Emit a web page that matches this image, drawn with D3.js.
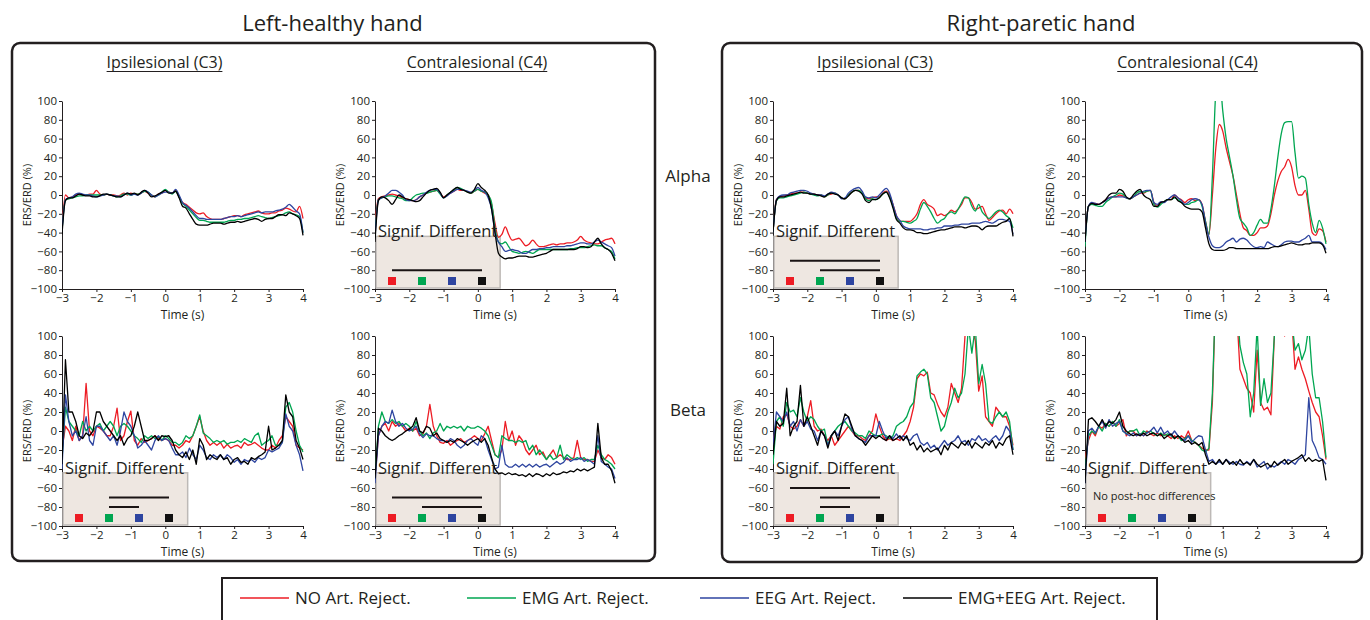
<!DOCTYPE html>
<html>
<head>
<meta charset="utf-8">
<script src="https://cdn.jsdelivr.net/npm/d3@7"></script>
<style>
  body { margin: 0; background: #fff; }
  text { font-family: "Open Sans", "Noto Sans", sans-serif; fill: #231f20; }
</style>
</head>
<body>
<svg id="chart" width="1370" height="620"></svg>
<script>
// time axis, one sample every 0.1 s from -3 to 4
const timeSteps = d3.range(71).map(i => Math.round((-3 + i * 0.1) * 10) / 10);
const xTicks = [-3, -2, -1, 0, 1, 2, 3, 4];
const yTicks = [-100, -80, -60, -40, -20, 0, 20, 40, 60, 80, 100];

const conditions = ["NO Art. Reject.", "EMG Art. Reject.", "EEG Art. Reject.", "EMG+EEG Art. Reject."];
const conditionColors = ["#ed1c24", "#00a651", "#2e45a0", "#000000"];
const handTitles = ["Left-healthy hand", "Right-paretic hand"];
const channelTitles = ["Ipsilesional (C3)", "Contralesional (C4)"];
const bandLabels = ["Alpha", "Beta"];

// ---- Left-healthy hand, alpha, ipsilesional
const lhAlphaIpsiNo = [
  -35, 0, -3, -2, 0, 1, 0, 0, 1, 1,
  5, 1, 0, 1, 0, 0, -1, 0, 2, 0,
  2, 1, 1, 2, 4, 2, 0, -2, 1, 2,
  5, 3, 2, 5, -2, -8, -10, -13, -16, -19,
  -20, -19, -23, -25, -26, -26, -26, -25, -24, -23,
  -22, -22, -23, -21, -20, -19, -18, -17, -19, -20,
  -20, -19, -19, -17, -16, -14, -15, -17, -18, -12,
  -25];
const lhAlphaIpsiEmg = [
  -38, -5, -4, -3, -2, -1, -1, 0, 0, 0,
  0, 0, 0, 1, 0, -1, -2, -1, 1, 1,
  0, 1, 1, 2, 4, 3, 0, -2, 0, 3,
  6, 3, 1, 4, -2, -9, -12, -16, -20, -24,
  -27, -27, -28, -29, -29, -29, -29, -29, -28, -27,
  -27, -26, -26, -25, -25, -24, -23, -22, -23, -24,
  -25, -24, -23, -22, -21, -19, -18, -20, -21, -23,
  -40];
const lhAlphaIpsiEeg = [
  -38, -5, -3, -2, 1, 2, 1, 0, 0, -1,
  -2, -1, 0, 1, 0, -1, -1, -2, 0, 2,
  0, 1, 0, 2, 5, 3, 0, -2, 0, 2,
  3, 3, 2, 6, 0, -8, -11, -14, -18, -22,
  -25, -25, -26, -26, -26, -26, -26, -25, -24, -23,
  -23, -22, -23, -22, -21, -20, -19, -18, -19, -18,
  -18, -18, -17, -16, -15, -13, -10, -13, -17, -20,
  -40];
const lhAlphaIpsiBoth = [
  -42, -6, -3, -3, -1, 1, 0, -1, -1, -2,
  -2, -1, 1, 1, 0, -1, -2, -2, 0, 2,
  1, 2, 0, 3, 5, 2, -2, -1, 1, 3,
  5, 2, 2, 4, -3, -12, -14, -20, -26, -31,
  -32, -32, -32, -31, -30, -30, -30, -31, -30, -29,
  -29, -28, -29, -28, -27, -26, -25, -26, -28, -26,
  -25, -25, -23, -21, -21, -22, -19, -20, -22, -25,
  -43];

// ---- Left-healthy hand, alpha, contralesional
const lhAlphaContraNo = [
  -30, -4, -2, -1, 0, 1, 0, -1, -3, -4,
  -5, -6, -5, -2, 0, 2, 3, 4, 5, 2,
  -2, 0, 2, 4, 6, 5, 5, 3, 2, 4,
  6, 4, 2, 0, -10, -30, -45, -42, -34, -42,
  -48, -47, -46, -50, -54, -52, -48, -52, -55, -55,
  -54, -53, -52, -53, -52, -52, -51, -51, -50, -48,
  -44, -48, -50, -51, -52, -52, -50, -48, -47, -46,
  -52];
const lhAlphaContraEmg = [
  -40, -5, -3, -2, -1, -1, -2, -3, -4, -6,
  -6, -3, 0, 1, 2, 2, 3, 4, 5, 1,
  -3, 0, 3, 5, 8, 7, 5, 3, 2, 4,
  6, 4, 3, 0, -8, -35, -50, -52, -50, -55,
  -60, -61, -62, -61, -60, -61, -62, -60, -58, -58,
  -58, -58, -58, -58, -58, -58, -58, -57, -57, -56,
  -56, -56, -55, -54, -53, -54, -54, -56, -58, -60,
  -68];
const lhAlphaContraEeg = [
  -45, -5, -3, -1, 2, 5, 5, 3, 0, -5,
  -6, -6, -5, -2, 0, 3, 5, 6, 6, 2,
  -3, -1, 2, 4, 6, 6, 5, 4, 3, 5,
  8, 5, 3, -3, -15, -40, -50, -55, -60, -59,
  -58, -59, -60, -62, -62, -60, -58, -58, -57, -57,
  -56, -56, -55, -55, -55, -55, -54, -54, -53, -52,
  -51, -51, -52, -52, -50, -48, -50, -52, -54, -56,
  -65];
const lhAlphaContraBoth = [
  -50, -6, -2, -3, -6, -10, -5, 0, -2, -4,
  -5, -6, -7, -6, -2, 2, 5, 6, 7, 3,
  -3, 0, 3, 6, 8, 6, 5, 3, 2, 6,
  12, 8, 5, 0, -15, -40, -62, -66, -68, -67,
  -67, -66, -65, -65, -65, -66, -66, -65, -64, -63,
  -62, -60, -58, -58, -58, -58, -58, -58, -58, -57,
  -55, -55, -56, -55, -50, -46, -52, -56, -58, -62,
  -70];

// ---- Left-healthy hand, beta, ipsilesional
const lhBetaIpsiNo = [
  -20, 5, 0, -10, 5, -10, -5, 50, 0, -5,
  5, 3, 0, -5, -5, 5, 24, -10, -5, 10,
  21, -10, -15, -8, -12, -10, -8, -5, -8, -10,
  -8, -10, -15, -15, -18, -15, -10, -12, -5, 5,
  15, 0, -10, -15, -12, -15, -12, -18, -14, -18,
  -16, -15, -18, -12, -15, -14, -12, -15, -18, -20,
  -20, -15, -18, -10, -5, 15, 10, 5, -15, -18,
  -20];
const lhBetaIpsiEmg = [
  -30, 25, 10, 5, 0, -5, 10, 0, 5, 0,
  5, 8, 0, 5, 10, 5, -5, 5, 8, 5,
  0, -5, -8, -12, -5, -8, -5, -8, -6, -10,
  -5, -8, -12, -12, -15, -12, -5, -8, -5, 5,
  17, -2, -5, -8, -12, -10, -12, -10, -14, -12,
  -12, -10, -12, -8, -10, -12, -5, -2, -15, -12,
  -10, -5, -15, -15, -12, 25, 30, 20, 0, -15,
  -22];
const lhBetaIpsiEeg = [
  -40, 38, 10, -5, 0, -10, -5, 15, -10, -15,
  5, 5, 0, -5, -10, -5, -15, 0, 20, 10,
  5, -5, -18, -15, -10, -15, -20, -10, -5, -10,
  -8, -10, -18, -25, -25, -22, -28, -18, -25, -30,
  -15, -20, -28, -30, -25, -28, -25, -30, -25, -28,
  -33, -30, -35, -30, -32, -30, -33, -28, -30, -28,
  -20, -22, -20, -18, -12, 18, 5, 0, -15, -25,
  -42];
const lhBetaIpsiBoth = [
  -35, 75, 20, 20, 10, -5, -8, -2, -5, 0,
  20, 20, 10, 5, 0, -5, -10, -5, -15, -8,
  -5, 5, 20, 5, -10, -10, -8, -5, -10, -5,
  -6, -5, -10, -20, -25, -28, -22, -30, -20, -35,
  -8, -15, -30, -25, -28, -30, -25, -30, -28, -35,
  -30, -28, -33, -32, -35, -28, -30, -27, -25, -22,
  5, -20, -18, -15, -10, 38, 20, 15, -10, -18,
  -30];

// ---- Left-healthy hand, beta, contralesional
const lhBetaContraNo = [
  -50, -5, 5, 8, 0, 10, 5, 8, 5, 0,
  3, 0, 3, -5, -3, 5, 28, 5, -5, -12,
  -13, -10, -15, -12, -10, -8, -12, -10, -8, -5,
  -8, -10, -3, 5, -10, -25, -28, -20, 10, -10,
  0, -15, -5, -10, -20, -25, -20, -15, -25, -22,
  -30, -25, -20, -28, -25, -28, -30, -30, -28, -10,
  -28, -30, -30, -32, -32, -20, -28, -30, -25, -28,
  -35];
const lhBetaContraEmg = [
  -50, 5, 20, 10, 8, 12, 8, 10, 5, 8,
  5, 0, 10, 0, -5, -2, -8, -2, 0, 8,
  0, 5, 3, 5, 3, 5, 0, 5, 3, 3,
  5, 3, 0, -5, -15, -25, -28, -5, -8, -10,
  -10, -12, -10, -12, -10, -20, -15, -25, -20, -25,
  -30, -25, -30, -28, -15, -30, -25, -28, -30, -28,
  -30, -28, -32, -30, -30, -15, -25, -30, -32, -35,
  -40];
const lhBetaContraEeg = [
  -55, -5, 5, 10, 8, 22, 10, 5, 8, 3,
  0, 2, 5, -3, -7, -3, -5, -5, -8, -10,
  -10, -12, -8, -10, -15, -18, -15, -10, -8, -12,
  -15, -5, -8, -20, -30, -40, -38, -15, -35, -38,
  -38, -35, -38, -35, -38, -35, -38, -35, -38, -36,
  -35, -38, -35, -32, -35, -33, -28, -32, -30, -30,
  -28, -32, -30, -32, -35, -5, -32, -35, -38, -40,
  -50];
const lhBetaContraBoth = [
  -50, 3, 0, -5, -8, -10, -8, -5, -3, 0,
  2, 5, 14, 0, -2, 5, 3, -5, -2, -8,
  -10, -12, -10, -12, -8, -10, -12, -15, -12, -10,
  -8, -12, -8, -15, -28, -40, -45, -44, -46, -44,
  -46, -45, -47, -46, -48, -45, -48, -45, -46, -48,
  -45, -47, -44, -46, -45, -43, -44, -42, -43, -40,
  -42, -40, -42, -40, -38, 8, -28, -35, -35, -42,
  -55];

// ---- Right-paretic hand, alpha, ipsilesional
const rpAlphaIpsiNo = [
  -40, -5, -2, -1, 0, 1, 2, 2, 3, 3,
  2, 1, 1, 0, 0, -2, 0, 1, 2, 0,
  -3, -4, 0, 3, 5, 5, 2, -3, -4, -3,
  -2, -2, 2, 4, 0, -10, -22, -28, -28, -28,
  -28, -25, -20, -10, -5, -10, -12, -15, -22, -20,
  -22, -20, -16, -18, -15, -10, -3, -3, -8, -15,
  -14, -12, -20, -27, -24, -20, -17, -16, -20, -15,
  -20];
const rpAlphaIpsiEmg = [
  -40, -6, -3, -3, -2, -1, 0, 1, 2, 3,
  2, 1, 0, -1, 0, -2, 0, 2, 2, 0,
  -3, -4, 0, 3, 5, 5, 2, -4, -6, -4,
  -5, -3, 1, 3, -2, -12, -25, -28, -28, -29,
  -30, -28, -25, -15, -8, -12, -18, -25, -30, -27,
  -25, -20, -18, -20, -15, -8, -2, -3, -12, -17,
  -10, -18, -22, -25, -22, -18, -16, -18, -22, -25,
  -35];
const rpAlphaIpsiEeg = [
  -40, -5, -1, 0, 0, 2, 3, 4, 5, 5,
  4, 2, 1, 0, 0, -1, 1, 3, 2, 0,
  -4, -3, 2, 5, 7, 8, 4, -2, -3, -2,
  -3, 0, 4, 7, 2, -10, -22, -27, -33, -35,
  -36, -36, -36, -36, -37, -37, -36, -36, -35, -35,
  -33, -33, -33, -32, -32, -31, -31, -31, -30, -30,
  -30, -29, -28, -29, -30, -28, -26, -26, -27, -28,
  -42];
const rpAlphaIpsiBoth = [
  -40, -6, -2, -2, -1, 0, 1, 2, 3, 2,
  2, 1, 1, 0, -1, -2, 1, 2, 1, 0,
  -3, -4, -1, 3, 5, 4, 1, -6, -8, -5,
  -5, -3, 1, 3, -3, -14, -26, -30, -35, -37,
  -37, -38, -40, -40, -41, -41, -40, -39, -38, -37,
  -37, -36, -35, -34, -34, -34, -35, -34, -33, -33,
  -34, -37, -34, -33, -33, -33, -31, -29, -28, -25,
  -44];

// ---- Right-paretic hand, alpha, contralesional
const rpAlphaContraNo = [
  -50, -12, -9, -9, -10, -8, -5, -3, -2, -2,
  0, -1, -3, -4, -2, 0, 2, 2, 4, 5,
  -8, -12, -8, -7, -5, -5, 0, -3, -5, -8,
  -5, -4, -6, -5, -10, -28, -42, 0, 50, 75,
  68, 50, 35, 20, 0, -20, -35, -38, -43, -43,
  -40, -35, -35, -33, -20, 0, 15, 25, 30, 38,
  30, 10, 0, 0, 5, -15, -40, -43, -36, -38,
  -50];
const rpAlphaContraEmg = [
  -55, -12, -10, -11, -12, -12, -8, -5, -2, 0,
  2, 1, -3, -4, -2, 2, 4, 3, 4, 5,
  -10, -13, -10, -7, -5, -5, -3, -5, -8, -10,
  -10, -8, -7, -5, -12, -28, -42, 20, 110, 130,
  90, 60, 40, 20, -5, -25, -30, -35, -43, -40,
  -32, -26, -30, -30, -15, 10, 40, 65, 77, 78,
  78, 45, 18, 20, 18, -10, -30, -40, -27, -35,
  -52];
const rpAlphaContraEeg = [
  -50, -12, -8, -9, -10, -8, -6, -3, -2, -2,
  -2, -2, -3, -4, -2, 0, 2, 4, 5, 5,
  -8, -10, -7, -8, -5, -2, 0, -3, -6, -10,
  -8, -5, -4, -5, -10, -30, -45, -54, -56, -56,
  -54, -50, -48, -46, -50, -47, -46, -48, -52, -55,
  -56, -55, -56, -50, -52, -54, -55, -53, -50, -49,
  -49, -50, -50, -48, -46, -43, -50, -50, -50, -52,
  -58];
const rpAlphaContraBoth = [
  -50, -12, -9, -10, -10, -8, -5, 0, 2, 2,
  6, 4, -2, -4, 0, 4, 6, 0, -3, -5,
  -12, -12, -8, -7, -5, -5, -2, -6, -8, -12,
  -14, -15, -15, -15, -18, -35, -52, -58, -59, -59,
  -59, -58, -56, -56, -57, -57, -57, -57, -57, -57,
  -57, -57, -57, -57, -56, -55, -55, -54, -53, -52,
  -51, -52, -53, -53, -52, -52, -51, -51, -51, -53,
  -62];

// ---- Right-paretic hand, beta, ipsilesional
const rpBetaIpsiNo = [
  -10, 5, 2, 15, 18, 5, 2, 5, 12, 5,
  15, 32, 5, 0, 2, -5, -10, -5, -15, -10,
  -5, 0, 5, 0, -5, -5, -8, -10, -5, 0,
  18, 5, -5, -10, -8, -10, -8, -10, -5, 0,
  10, 25, 55, 60, 58, 62, 40, 38, 28, 20,
  15, 25, 50, 40, 30, 45, 100, 130, 110, 95,
  42, 58, 15, 10, 5, 25, 20, 15, 15, 5,
  -15];
const rpBetaIpsiEmg = [
  -35, 10, 15, 5, 30, 20, 22, 15, 35, 20,
  10, 15, 12, 5, 0, 2, -15, -5, 0, 5,
  8, 10, 5, 0, -2, -5, -5, -8, 0, -3,
  -5, -5, -3, -5, -8, -5, 5, 8, 10, 15,
  25, 30, 58, 62, 65, 60, 35, 30, 15, 0,
  5, 20, 30, 45, 35, 40, 60, 110, 82, 110,
  50, 70, 50, 10, 8, 15, 20, 15, 20, 10,
  -20];
const rpBetaIpsiEeg = [
  -15, 20, 15, 10, 20, 5, 10, 0, 12, 5,
  10, 2, 0, -10, 0, -5, -15, -5, 0, -5,
  5, 12, 15, 2, -5, -8, -10, -12, -5, -5,
  -5, 10, 0, -8, -5, -8, -3, -8, -5, -8,
  -10, -5, -3, -12, -15, -12, -18, -15, -20, -15,
  -10, -15, -12, -10, -5, -12, -10, -15, -8, -10,
  -5, -10, -8, -12, -8, -5, -10, -5, 5, 0,
  -20];
const rpBetaIpsiBoth = [
  -25, 10, 5, 8, 45, -5, 5, 10, 48, 5,
  15, 5, -5, -15, 0, -5, -18, -5, 0, -10,
  5, 18, 15, 5, -5, -8, -10, -15, -10, -5,
  -8, -5, -8, -10, -5, -10, -8, -5, -10, -5,
  -15, -12, -20, -15, -22, -18, -22, -20, -18, -25,
  -15, -20, -12, -15, -18, -12, -15, -10, -18, -12,
  -15, -18, -12, -15, -10, -18, -12, -15, -8, -5,
  -25];

// ---- Right-paretic hand, beta, contralesional
const rpBetaContraNo = [
  -30, -10, 0, -5, 5, 3, 8, 5, 10, 5,
  8, 12, -5, 0, 0, -5, -3, -5, 0, -3,
  -5, -2, -5, -3, -5, -8, -5, -8, -5, -8,
  0, -10, -12, -15, -18, -20, -20, 30, 150, 160,
  160, 160, 160, 160, 130, 65, 55, 45, 40, 20,
  85, 30, 22, 25, 17, 100, 150, 130, 100, 120,
  120, 65, 78, 65, 55, 42, 30, 20, 15, -5,
  -30];
const rpBetaContraEmg = [
  -40, -5, 0, -3, 5, 0, 8, 5, 10, 5,
  12, 0, -3, 0, 0, 2, -5, 0, -2, 0,
  -3, -5, -2, -5, -3, -5, -8, -5, -10, -8,
  -5, -10, -12, -15, -20, -22, -18, 40, 150, 160,
  160, 160, 160, 160, 140, 90, 72, 60, 15, 40,
  110, 27, 55, 30, 40, 100, 150, 140, 130, 150,
  120, 85, 92, 75, 85, 110, 60, 35, 35, 10,
  -28];
const rpBetaContraEeg = [
  -55, 0, 3, -2, 5, 10, 3, 12, 5, 8,
  10, 0, -3, -5, -2, -5, -3, -5, -2, 0,
  4, -2, 4, -3, 0, -5, 0, -5, -8, -10,
  -5, -12, -8, -5, -6, -20, -32, -30, -35, -32,
  -35, -30, -33, -35, -32, -35, -36, -32, -35, -30,
  -38, -35, -32, -40, -36, -38, -35, -32, -35, -30,
  -32, -35, -30, -28, -25, 35, -10, -18, -28, -30,
  -35];
const rpBetaContraBoth = [
  -55, 12, 14, 10, 5, 12, 5, 10, 8, 12,
  20, 5, 0, -3, -5, -3, -5, -2, -5, -3,
  -2, -5, -3, -8, -5, -3, -8, -5, -8, -12,
  -10, -14, -12, -15, -12, -25, -35, -32, -35, -30,
  -35, -30, -35, -32, -36, -30, -35, -33, -36, -30,
  -35, -38, -36, -34, -38, -32, -36, -33, -30, -35,
  -32, -30, -28, -25, -32, -28, -32, -30, -32, -30,
  -52];

// post-hoc significant pairs (condition indices), listed top line first
const lhAlphaContraSig = [[0, 3]];
const lhBetaIpsiSig = [[1, 3], [1, 2]];
const lhBetaContraSig = [[0, 3], [1, 3]];
const rpAlphaIpsiSig = [[0, 3], [1, 3]];
const rpBetaIpsiSig = [[0, 2], [1, 3], [1, 2]];
const rpBetaContraSig = [];

const panels = [
  { hand: 0, chan: 0, band: 0, series: [lhAlphaIpsiNo, lhAlphaIpsiEmg, lhAlphaIpsiEeg, lhAlphaIpsiBoth], sig: null },
  { hand: 0, chan: 1, band: 0, series: [lhAlphaContraNo, lhAlphaContraEmg, lhAlphaContraEeg, lhAlphaContraBoth], sig: lhAlphaContraSig },
  { hand: 0, chan: 0, band: 1, series: [lhBetaIpsiNo, lhBetaIpsiEmg, lhBetaIpsiEeg, lhBetaIpsiBoth], sig: lhBetaIpsiSig },
  { hand: 0, chan: 1, band: 1, series: [lhBetaContraNo, lhBetaContraEmg, lhBetaContraEeg, lhBetaContraBoth], sig: lhBetaContraSig },
  { hand: 1, chan: 0, band: 0, series: [rpAlphaIpsiNo, rpAlphaIpsiEmg, rpAlphaIpsiEeg, rpAlphaIpsiBoth], sig: rpAlphaIpsiSig },
  { hand: 1, chan: 1, band: 0, series: [rpAlphaContraNo, rpAlphaContraEmg, rpAlphaContraEeg, rpAlphaContraBoth], sig: null },
  { hand: 1, chan: 0, band: 1, series: [rpBetaIpsiNo, rpBetaIpsiEmg, rpBetaIpsiEeg, rpBetaIpsiBoth], sig: rpBetaIpsiSig },
  { hand: 1, chan: 1, band: 1, series: [rpBetaContraNo, rpBetaContraEmg, rpBetaContraEeg, rpBetaContraBoth], sig: rpBetaContraSig, note: "No post-hoc differences" }
];

// layout
const colX = [[62, 303], [375, 615], [773, 1013], [1085, 1326]];
const rowY = [[101, 289], [336, 526]];
const ink = "#231f20";

const svg = d3.select("#chart");

// outer frames per hand
const frames = [{ x: 12, y: 43, w: 643, h: 518 }, { x: 722, y: 43, w: 640, h: 519 }];
frames.forEach((f, i) => {
  svg.append("rect").attr("x", f.x).attr("y", f.y).attr("width", f.w).attr("height", f.h)
    .attr("rx", 8).attr("fill", "none").attr("stroke", ink).attr("stroke-width", 2.5);
  svg.append("text").attr("x", f.x + f.w / 2 - 1).attr("y", 31).attr("text-anchor", "middle")
    .style("font-size", "22px").text(handTitles[i]);
});

// channel titles, underlined
colX.forEach(([x0, x1], c) => {
  const cx = (x0 + x1) / 2 - 18;
  const t = svg.append("text").attr("x", cx).attr("y", 68).attr("text-anchor", "middle")
    .style("font-size", "16px").text(channelTitles[c % 2]);
  const w = t.node().getComputedTextLength();
  svg.append("line").attr("x1", cx - w / 2).attr("x2", cx + w / 2).attr("y1", 71.5).attr("y2", 71.5)
    .attr("stroke", ink).attr("stroke-width", 1);
});

// band labels between the two frames
bandLabels.forEach((b, i) => {
  svg.append("text").attr("x", 688).attr("y", (i === 0 ? 176 : 410) + 6).attr("text-anchor", "middle")
    .style("font-size", "17px").text(b);
});

panels.forEach((p, k) => {
  const [x0, x1] = colX[p.hand * 2 + p.chan];
  const [y0, y1] = rowY[p.band];
  const x = d3.scaleLinear().domain([-3, 4]).range([x0, x1]);
  const y = d3.scaleLinear().domain([-100, 100]).range([y1, y0]);
  const g = svg.append("g");

  const xAxis = g.append("g").attr("transform", `translate(0,${y1})`)
    .call(d3.axisBottom(x).tickValues(xTicks).tickFormat(d3.format("d")).tickSize(3).tickSizeOuter(0).tickPadding(2));
  const yAxis = g.append("g").attr("transform", `translate(${x0},0)`)
    .call(d3.axisLeft(y).tickValues(yTicks).tickFormat(d3.format("d")).tickSize(3).tickSizeOuter(0).tickPadding(2));
  [xAxis, yAxis].forEach(a => {
    a.select(".domain").attr("stroke", ink);
    a.selectAll(".tick line").attr("stroke", ink);
    a.selectAll("text").style("font-size", "11.5px").style("font-family", "'Open Sans', sans-serif").attr("fill", ink);
  });

  g.append("text").attr("x", (x0 + x1) / 2).attr("y", y1 + 30).attr("text-anchor", "middle")
    .style("font-size", "12px").text("Time (s)");
  g.append("text").attr("transform", `translate(${x0 - 31},${(y0 + y1) / 2}) rotate(-90)`)
    .attr("text-anchor", "middle").style("font-size", "11px").text("ERS/ERD (%)");

  // significance box
  let boxTop = null;
  if (p.sig) {
    boxTop = y(-44);
    g.append("rect").attr("x", x0 + 1).attr("y", boxTop).attr("width", x(0.65) - x0 - 1).attr("height", y1 - 1 - boxTop)
      .attr("fill", "#eee7e1").attr("stroke", "#bdb9b6").attr("stroke-width", 1.5);
    const sqX = conditions.map((c, i) => x0 + 17 + 30 * i);
    const n = p.sig.length;
    p.sig.forEach(([a, b], j) => {
      const ly = y(-80 + 10 * (n - 1 - j));
      g.append("line").attr("x1", sqX[a]).attr("x2", sqX[b]).attr("y1", ly).attr("y2", ly)
        .attr("stroke", "#1a1414").attr("stroke-width", 2);
    });
    conditions.forEach((c, i) => {
      g.append("rect").attr("x", sqX[i] - 4).attr("y", y1 - 12).attr("width", 8).attr("height", 8)
        .attr("fill", conditionColors[i] === "#000000" ? "#111" : conditionColors[i]);
    });
    if (p.note) {
      g.append("text").attr("x", x0 + 8).attr("y", y(-68) + 4).style("font-size", "11px").text(p.note);
    }
  }

  // curves
  const clipId = `clip${k}`;
  svg.append("clipPath").attr("id", clipId).append("rect")
    .attr("x", x0).attr("y", y0).attr("width", x1 - x0 + 1).attr("height", y1 - y0);
  const line = d3.line().x((d, i) => x(timeSteps[i])).y(d => y(d))
    .curve(p.band === 0 ? d3.curveMonotoneX : d3.curveLinear);
  g.append("g").attr("clip-path", `url(#${clipId})`).selectAll("path").data(p.series).join("path")
    .attr("fill", "none").attr("stroke", (d, i) => conditionColors[i])
    .attr("stroke-width", 1.3).attr("stroke-linejoin", "round").attr("d", line);

  if (p.sig) {
    g.append("text").attr("x", x0 + 3).attr("y", boxTop + 1).style("font-size", "16.5px").text("Signif. Different");
  }
});

// legend
const legendX = [240, 467, 700, 903];
svg.append("rect").attr("x", 222).attr("y", 578).attr("width", 935).attr("height", 60)
  .attr("fill", "none").attr("stroke", ink).attr("stroke-width", 2);
conditions.forEach((c, i) => {
  svg.append("line").attr("x1", legendX[i]).attr("x2", legendX[i] + 49).attr("y1", 598).attr("y2", 598)
    .attr("stroke", conditionColors[i]).attr("stroke-width", 1.5);
  svg.append("text").attr("x", legendX[i] + 55).attr("y", 604).style("font-size", "17px").text(c);
});
</script>
</body>
</html>
